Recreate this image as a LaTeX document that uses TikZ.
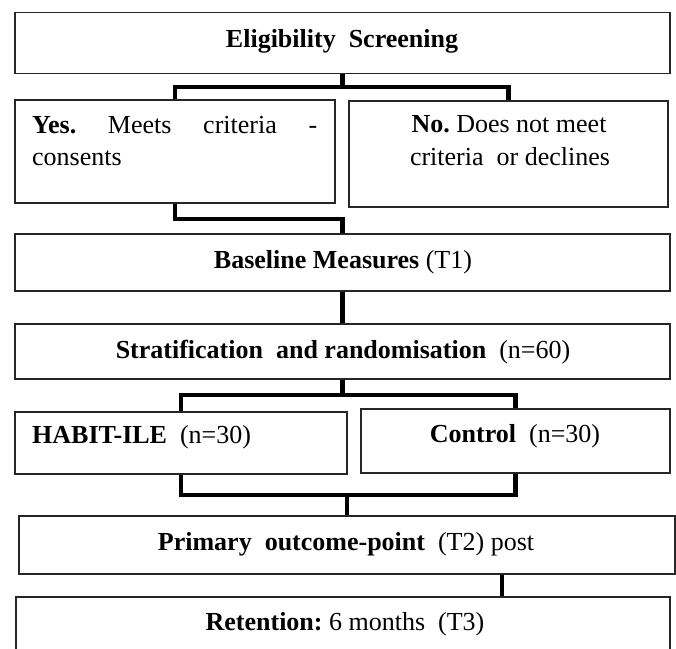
\documentclass[tikz,border=0pt]{standalone}
\usepackage{fontspec}
\setmainfont{Liberation Serif}
\frenchspacing
\begin{document}
\begin{tikzpicture}[x=1pt,y=-1pt,
  box/.style={draw=black!85, line width=1.3pt, rectangle, inner sep=0pt},
  conn/.style={draw=black, line width=4.4pt},
  lbl/.style={anchor=base, inner sep=0pt, font=\fontsize{26}{33}\selectfont},
  lbll/.style={anchor=base west, inner sep=0pt, font=\fontsize{26}{33}\selectfont}]
\useasboundingbox (0,0) rectangle (676,648);
% boxes
\node[box, minimum width=655pt, minimum height=61pt] (b1) at (342.5,43.3) {};
\node[box, minimum width=320pt, minimum height=103pt] (yes) at (175,151.5) {};
\node[box, minimum width=319pt, minimum height=106pt] (no) at (508.5,154) {};
\node[box, minimum width=655pt, minimum height=57pt] (base) at (342.5,262.5) {};
\node[box, minimum width=655pt, minimum height=55pt] (strat) at (342.5,351.5) {};
\node[box, minimum width=332pt, minimum height=62pt] (habit) at (181,443) {};
\node[box, minimum width=309pt, minimum height=64pt] (control) at (515.5,441) {};
\node[box, minimum width=656pt, minimum height=58pt] (primary) at (347,545) {};
\node[box, minimum width=654pt, minimum height=90pt] (retention) at (343,642) {};
% labels
\node[lbl] (t1) at (342,47) {\textbf{Eligibility\ \ Screening}};
\node[lbll] (tyes1) at (32,133) {\makebox[285pt][s]{\textbf{Yes.} Meets criteria -}};
\node[lbll] (tyes2) at (32,165) {consents};
\node[lbl] (tno1) at (509,132) {\textbf{No.} Does not meet};
\node[lbl] (tno2) at (510,165) {criteria\ \ or declines};
\node[lbl] (tbase) at (343,268) {\textbf{Baseline Measures} (T1)};
\node[lbl] (tstrat) at (343,358) {\textbf{Stratification\ \ and randomisation}\ \ (n=60)};
\node[lbll] (thabit) at (32,443) {\textbf{HABIT-ILE}\ \ (n=30)};
\node[lbl] (tcontrol) at (515,442) {\textbf{Control}\ \ (n=30)};
\node[lbl] (tprimary) at (346,550) {\textbf{Primary\ \ outcome-point}\ \ (T2) post};
\node[lbl] (tret) at (345,630) {\textbf{Retention:} 6 months\ \ (T3)};
% junctions
\coordinate (j1) at (342.5,87);
\coordinate (j2) at (342.5,219);
\coordinate (j3) at (342.5,395);
\coordinate (j4) at (347,495);
\coordinate (k) at (502,0);
% connectors
\draw[conn] (b1.south) -- (j1);
\draw[conn] (yes.north) |- (j1) -| (no.north);
\draw[conn] (yes.south) |- (j2) -- (base.north);
\draw[conn] (base.south) -- (strat.north);
\draw[conn] (strat.south) -- (j3);
\draw[conn] (habit.north) |- (j3) -| (control.north);
\draw[conn] (habit.south) |- (j4) -| (control.south);
\draw[conn] (j4) -- (primary.north);
\draw[conn] (primary.south -| k) -- (retention.north -| k);
\end{tikzpicture}
\end{document}
